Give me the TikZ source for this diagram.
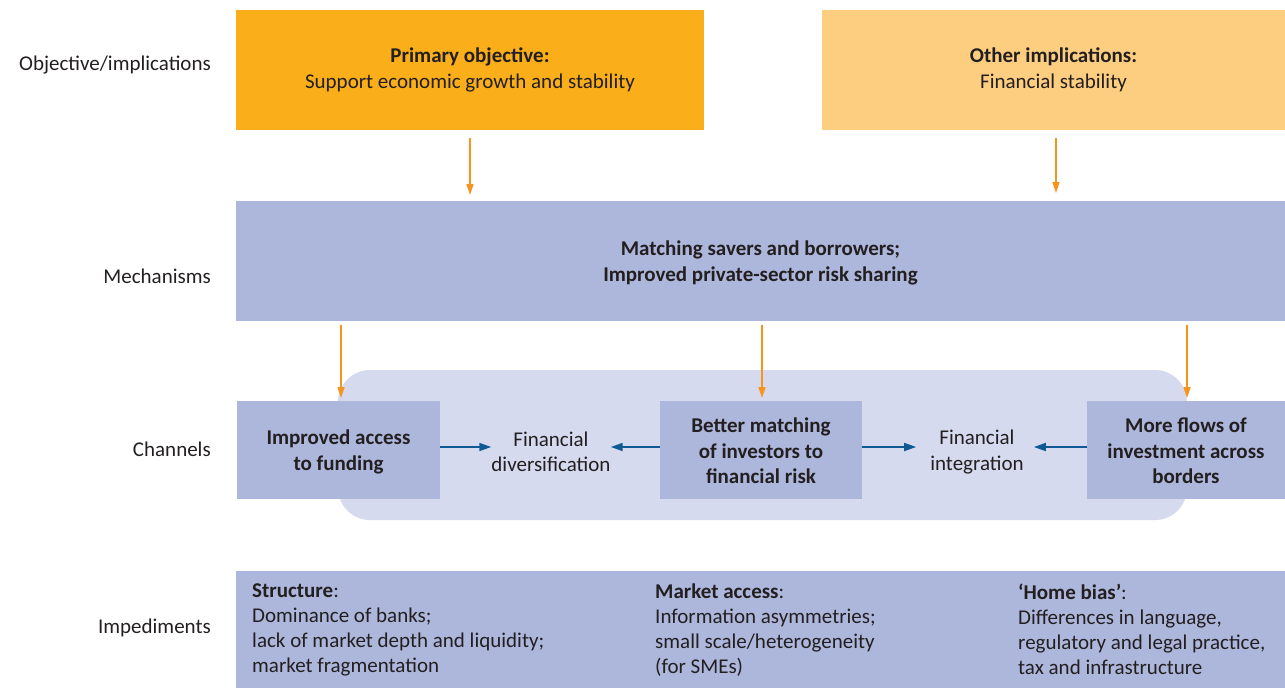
\documentclass[tikz,border=0pt]{standalone}
\usepackage{fontspec}
\setmainfont{Carlito}
\usetikzlibrary{arrows.meta}
\definecolor{txt}{HTML}{231F20}
\definecolor{primc}{HTML}{F9AE1A}
\definecolor{othc}{HTML}{FDCD80}
\definecolor{mechc}{HTML}{ADB7DC}
\definecolor{chanbg}{HTML}{D5DAEE}
\definecolor{oarc}{HTML}{F7941D}
\definecolor{barc}{HTML}{0F5A94}
\tikzset{
  box/.style={inner sep=0pt, outer sep=0pt, fill=mechc},
  btxt/.style={inner sep=0pt, text=txt, align=center, font=\fontsize{21}{25.5}\selectfont},
  rowlab/.style={text=txt, anchor=east, inner sep=0pt, font=\fontsize{21}{25.5}\selectfont},
  oarr/.style={draw=oarc, line width=1.5pt, -{Triangle[length=11pt,width=7pt]}},
  barr/.style={draw=barc, line width=1.8pt, -{Triangle[length=12pt,width=8pt]}},
  imp/.style={text=txt, align=left, anchor=north west, inner sep=0pt, font=\fontsize{21}{25}\selectfont}
}
\begin{document}
\begin{tikzpicture}[x=1pt,y=-1pt]
\useasboundingbox (0,0) rectangle (1285,688);
% boxes
\node[box, fill=primc, minimum width=468pt, minimum height=120pt] (prim) at (470,70) {};
\node[btxt] (primt) at (prim.center) {\textbf{Primary objective:}\\Support economic growth and stability};
\node[box, fill=othc, minimum width=463pt, minimum height=120pt] (oth) at (1053.5,70) {};
\node[btxt] (otht) at (oth.center) {\textbf{Other implications:}\\Financial stability};
\node[box, minimum width=1049pt, minimum height=120pt] (mech) at (760.5,261) {};
\node[btxt] (mecht) at ([yshift=-2pt]mech.center) {\textbf{Matching savers and borrowers;}\\\textbf{Improved private-sector risk sharing}};
\node[fill=chanbg, rounded corners=32pt, minimum width=849pt, minimum height=150pt, inner sep=0pt] (chan) at (762.5,445) {};
\node[box, minimum width=203pt, minimum height=98pt] (b1) at (338.5,450) {};
\node[btxt] (b1t) at ([yshift=-2pt]b1.center) {\textbf{Improved access}\\\textbf{to funding}};
\node[box, minimum width=202pt, minimum height=98pt] (b2) at (761,450) {};
\node[btxt] (b2t) at ([yshift=-1pt]b2.center) {\textbf{Better matching}\\\textbf{of investors to}\\\textbf{financial risk}};
\node[box, minimum width=198pt, minimum height=98pt] (b3) at (1186,450) {};
\node[btxt] (b3t) at ([yshift=-1pt]b3.center) {\textbf{More flows of}\\\textbf{investment across}\\\textbf{borders}};
\node[btxt] (fd) at (551,452) {Financial\\diversification};
\node[btxt] (fi) at (977,452) {Financial\\integration};
\node[box, minimum width=1049pt, minimum height=117pt] (impb) at (760.5,629.5) {};
% impediment texts
\node[imp] (i1) at (252,584) {\textbf{Structure}:\\Dominance of banks;\\lack of market depth and liquidity;\\market fragmentation};
\node[imp] (i2) at (655,584) {\textbf{Market access}:\\Information asymmetries;\\small scale/heterogeneity\\(for SMEs)};
\node[imp] (i3) at (1018,584) {\textbf{`Home bias'}:\\Differences in language,\\regulatory and legal practice,\\tax and infrastructure};
% row labels
\node[rowlab] (l1) at (211,65) {Objective/implications};
\node[rowlab] (l2) at (211,276) {Mechanisms};
\node[rowlab] (l3) at (211,449) {Channels};
\node[rowlab] (l4) at (211,628) {Impediments};
% arrows
\draw[oarr, shorten <=8pt, shorten >=6pt] (prim.south) -- (prim.south |- mech.north);
\draw[oarr, shorten <=8pt, shorten >=8pt] ([xshift=2.5pt]oth.south) -- ([xshift=2.5pt]oth.south |- mech.north);
\draw[oarr, shorten <=4pt, shorten >=3pt] ([xshift=2.5pt]mech.south -| b1.north) -- ([xshift=2.5pt]b1.north);
\draw[oarr, shorten <=4pt, shorten >=3pt] ([xshift=1pt]mech.south -| b2.north) -- ([xshift=1pt]b2.north);
\draw[oarr, shorten <=4pt, shorten >=3pt] ([xshift=1pt]mech.south -| b3.north) -- ([xshift=1pt]b3.north);
\draw[barr] ([yshift=3pt]b1.east) -- ([yshift=3pt]b1.east -| fd.west);
\draw[barr] ([yshift=3pt]b2.west) -- ([yshift=3pt]b2.west -| fd.east);
\draw[barr, shorten >=14pt] ([yshift=3pt]b2.east) -- ([yshift=3pt]b2.east -| fi.west);
\draw[barr, shorten >=10pt] ([yshift=3pt]b3.west) -- ([yshift=3pt]b3.west -| fi.east);
\end{tikzpicture}
\end{document}
